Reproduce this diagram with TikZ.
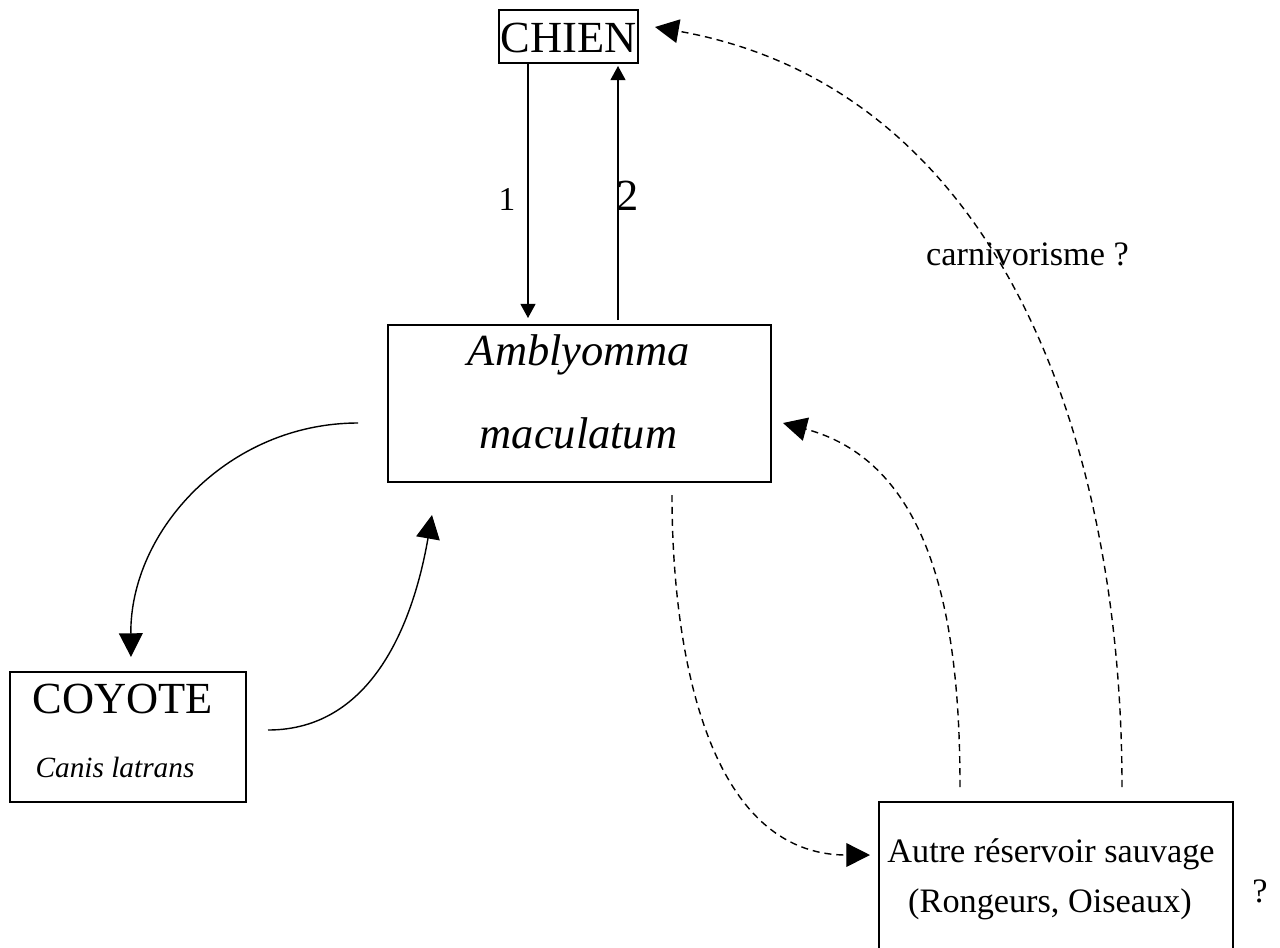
\documentclass[tikz,border=0pt]{standalone}
\usepackage{fontspec}
\setmainfont{Liberation Serif}
\usetikzlibrary{arrows.meta}
\begin{document}
\begin{tikzpicture}[x=0.02cm,y=-0.02cm,
  box/.style={draw,line width=0.8pt,inner sep=0pt,outer sep=0pt},
  txt/.style={anchor=base,inner sep=0pt},
  big/.style={font=\fontsize{25.3pt}{30pt}\selectfont},
  mid/.style={font=\fontsize{19.5pt}{23pt}\selectfont},
  con/.style={line width=0.8pt},
  bighead/.style={-{Triangle[length=13.5pt,width=13.5pt]}},
  smallhead/.style={-{Triangle[length=8pt,width=8.5pt]}},
  dsh/.style={dash pattern=on 4pt off 2.8pt}]
\useasboundingbox (0,0) rectangle (1280,947);
% boxes
\node[box,minimum width=2.78cm,minimum height=1.06cm] (chien) at (568.5,36.5) {};
\node[box,minimum width=7.66cm,minimum height=3.14cm] (ambly) at (579.5,403.5) {};
\node[box,minimum width=4.72cm,minimum height=2.6cm] (coyote) at (128,737) {};
\node[box,minimum width=7.08cm,minimum height=3.16cm] (reserv) at (1056,881) {};
% texts
\node[txt,big] (tchien) at (568.7,52) {CHIEN};
\node[txt,font=\fontsize{19pt}{23pt}\selectfont] (one) at (507,210) {1};
\node[txt,big] (two) at (628,210) {2};
\node[txt,big] (tam1) at (579,365) {\itshape Amblyomma};
\node[txt,big] (tam2) at (578.5,448) {\itshape maculatum};
\node[txt,big] (tcoy) at (122.5,713) {COYOTE};
\node[txt,font=\fontsize{16.7pt}{20pt}\selectfont] (tcanis) at (115,777) {\itshape Canis latrans};
\node[txt,mid] (tcarn) at (1027.5,265) {carnivorisme ?};
\node[txt,mid] (tres1) at (1051,862) {Autre réservoir sauvage};
\node[txt,mid] (tres2) at (1050,912) {(Rongeurs, Oiseaux)};
\node[txt,mid] (tq) at (1260,902) {?};
% connector ends
\coordinate (a1s) at (528,63);
\coordinate (a1e) at (528,318);
\coordinate (a2s) at (618,320);
\coordinate (a2e) at (618,66);
\coordinate (c1s) at (358,423);
\coordinate (c1e) at (131,657);
\coordinate (c2s) at (268,730);
\coordinate (c2e) at (432,515);
\coordinate (d1s) at (672,495);
\coordinate (d1e) at (870,855);
\coordinate (d2s) at (960,787);
\coordinate (d2e) at (783,423);
\coordinate (d3s) at (1122,787);
\coordinate (d3e) at (655,27);
% connectors
\draw[con,smallhead] (a1s) -- (a1e);
\draw[con,smallhead] (a2s) -- (a2e);
\draw[con,bighead] (c1s) .. controls (229,423) and (130,530) .. (c1e);
\draw[con,bighead] (c2s) .. controls (374,730) and (414,619) .. (c2e);
\draw[con,dsh,bighead] (d1s) .. controls (672,656) and (709,855) .. (d1e);
\draw[con,dsh,bighead] (d2s) .. controls (960,629) and (936,464) .. (d2e);
\draw[con,dsh,bighead] (d3s) .. controls (1122,438) and (999,88) .. (d3e);
\end{tikzpicture}
\end{document}
